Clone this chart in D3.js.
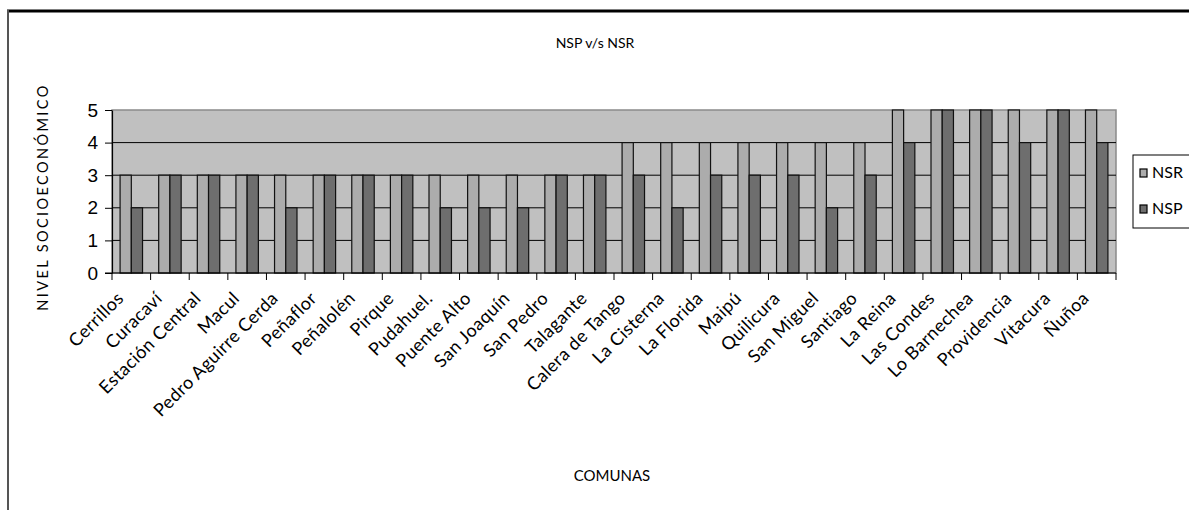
<!DOCTYPE html>
<html>
<head>
<meta charset="utf-8">
<script src="https://cdn.jsdelivr.net/npm/d3@7"></script>
<style>
  body { margin: 0; background: #fff; }
  svg { display: block; }
</style>
</head>
<body>
<div id="chart"></div>
<script>
'use strict'

// comunas, in chart order
const comunas = ['Cerrillos', 'Curacaví', 'Estación Central', 'Macul', 'Pedro Aguirre Cerda', 'Peñaflor',
    'Peñalolén', 'Pirque', 'Pudahuel.', 'Puente Alto', 'San Joaquín', 'San Pedro', 'Talagante',
    'Calera de Tango', 'La Cisterna', 'La Florida', 'Maipú', 'Quilicura', 'San Miguel', 'Santiago',
    'La Reina', 'Las Condes', 'Lo Barnechea', 'Providencia', 'Vitacura', 'Ñuñoa']

const nsr = [3, 3, 3, 3, 3, 3, 3, 3, 3, 3, 3, 3, 3, 4, 4, 4, 4, 4, 4, 4, 5, 5, 5, 5, 5, 5]
const nsp = [2, 3, 3, 3, 2, 3, 3, 3, 2, 2, 2, 3, 3, 3, 2, 3, 3, 3, 2, 3, 4, 5, 5, 4, 5, 4]

const seriesNames = ['NSR', 'NSP']
const yTicks = [0, 1, 2, 3, 4, 5]

const data = comunas.map((c, i) => ({ comuna: c, NSR: nsr[i], NSP: nsp[i] }))

const svgWidth = 1189
const svgHeight = 510

// plot area box
const plot = { left: 112, right: 1116, top: 110, bottom: 273 }

const svg = d3.select('#chart')
    .append('svg')
    .attr('width', svgWidth)
    .attr('height', svgHeight)

// chart frame (only top and left are in view)
svg.append('line')
    .attr('x1', 7).attr('x2', svgWidth).attr('y1', 11).attr('y2', 11)
    .attr('stroke', '#000').attr('stroke-width', 3)
svg.append('line')
    .attr('x1', 8).attr('x2', 8).attr('y1', 10).attr('y2', svgHeight)
    .attr('stroke', '#555').attr('stroke-width', 2)

////////////////////////////////////
//////////////scales////////////////
////////////////////////////////////

const xScale = d3.scaleBand()
    .domain(comunas)
    .range([plot.left, plot.right])
    .padding(0)

const xInner = d3.scaleBand()
    .domain(seriesNames)
    .range([0, xScale.bandwidth()])
    .paddingInner(0)
    .paddingOuter(0.72)

const yScale = d3.scaleLinear()
    .domain([0, 5])
    .range([plot.bottom, plot.top])

const colorScale = d3.scaleOrdinal()
    .domain(seriesNames)
    .range(['#acacac', '#6e6e6e'])

// plot background
svg.append('rect')
    .attr('x', plot.left)
    .attr('y', plot.top)
    .attr('width', plot.right - plot.left)
    .attr('height', plot.bottom - plot.top)
    .attr('fill', '#c0c0c0')
    .attr('stroke', '#8a8a8a')
    .attr('stroke-width', 1.5)

// gridlines
svg.append('g')
    .selectAll('line')
    .data(yTicks.filter(d => d > 0 && d < 5))
    .join('line')
    .attr('x1', plot.left)
    .attr('x2', plot.right)
    .attr('y1', d => yScale(d))
    .attr('y2', d => yScale(d))
    .attr('stroke', '#000')
    .attr('stroke-width', 1)

// bars
const groups = svg.append('g')
    .selectAll('g')
    .data(data)
    .join('g')
    .attr('transform', d => `translate(${xScale(d.comuna)},0)`)

groups.selectAll('rect')
    .data(d => seriesNames.map(s => ({ key: s, value: d[s] })))
    .join('rect')
    .attr('x', d => xInner(d.key))
    .attr('y', d => yScale(d.value))
    .attr('width', xInner.bandwidth())
    .attr('height', d => yScale(0) - yScale(d.value))
    .attr('fill', d => colorScale(d.key))
    .attr('stroke', '#111')
    .attr('stroke-width', 1.2)

////////////////////////////////////
///////////////axis/////////////////
////////////////////////////////////

const yAxis = d3.axisLeft(yScale)
    .tickValues(yTicks)
    .tickFormat(d3.format('d'))
    .tickSize(7)
    .tickSizeOuter(0)
    .tickPadding(7)

const yG = svg.append('g')
    .attr('transform', `translate(${plot.left},0)`)
    .call(yAxis)
yG.select('.domain').attr('stroke', '#000').attr('stroke-width', 1.2)
yG.selectAll('.tick line').attr('stroke', '#000')
yG.selectAll('.tick text')
    .attr('font-family', 'Liberation Sans, Arial, sans-serif')
    .attr('font-size', 19)
    .attr('fill', '#000')

// x axis line and ticks at category boundaries
svg.append('line')
    .attr('x1', plot.left - 7).attr('x2', plot.right)
    .attr('y1', plot.bottom).attr('y2', plot.bottom)
    .attr('stroke', '#000').attr('stroke-width', 1.2)

const boundaries = comunas.map(c => xScale(c)).concat([plot.right])
svg.append('g')
    .selectAll('line')
    .data(boundaries)
    .join('line')
    .attr('x1', d => d).attr('x2', d => d)
    .attr('y1', plot.bottom).attr('y2', plot.bottom + 7)
    .attr('stroke', '#000')

// category labels, rotated
svg.append('g')
    .selectAll('text')
    .data(comunas)
    .join('text')
    .attr('transform', d => `translate(${xScale(d) + xScale.bandwidth() / 2 - 11},${plot.bottom + 22}) rotate(-45)`)
    .attr('text-anchor', 'end')
    .attr('dy', '0.35em')
    .attr('font-family', 'Lato, sans-serif')
    .attr('font-size', 18)
    .attr('letter-spacing', 0.4)
    .attr('fill', '#000')
    .text(d => d)

// titles
svg.append('text')
    .attr('x', 595).attr('y', 48)
    .attr('text-anchor', 'middle')
    .attr('font-family', 'Lato, sans-serif')
    .attr('font-size', 14)
    .text('NSP v/s NSR')

svg.append('text')
    .attr('x', 612).attr('y', 481)
    .attr('text-anchor', 'middle')
    .attr('font-family', 'Lato, sans-serif')
    .attr('font-size', 15)
    .text('COMUNAS')

svg.append('text')
    .attr('transform', 'translate(48,197) rotate(-90)')
    .attr('text-anchor', 'middle')
    .attr('font-family', 'Lato, sans-serif')
    .attr('font-size', 14.5)
    .attr('letter-spacing', 2.4)
    .text('NIVEL SOCIOECONÓMICO')

// legend
const legend = svg.append('g').attr('transform', 'translate(1133,155)')
legend.append('rect')
    .attr('width', 70).attr('height', 73)
    .attr('fill', '#fff')
    .attr('stroke', '#000')
    .attr('stroke-width', 1)

const items = legend.selectAll('g')
    .data(seriesNames)
    .join('g')
    .attr('transform', (d, i) => `translate(7,${14 + i * 36})`)
items.append('rect')
    .attr('width', 7).attr('height', 8)
    .attr('fill', d => colorScale(d))
    .attr('stroke', '#000')
    .attr('stroke-width', 1.2)
items.append('text')
    .attr('x', 12).attr('y', 9)
    .attr('font-family', 'Lato, sans-serif')
    .attr('font-size', 16)
    .text(d => d)
</script>
</body>
</html>
